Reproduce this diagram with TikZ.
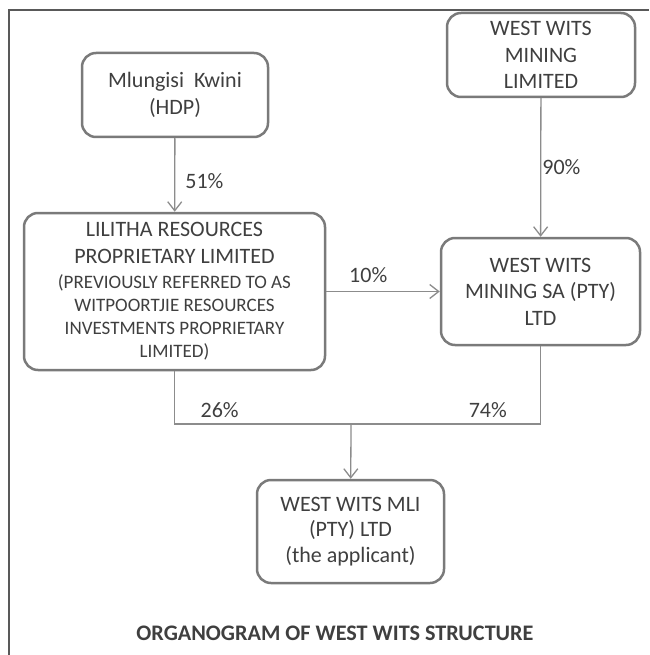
\documentclass[tikz,border=0pt]{standalone}
\usepackage{fontspec}
\setmainfont{Carlito}
\usetikzlibrary{arrows.meta}
\definecolor{txtgray}{HTML}{3F3F3F}
\definecolor{boxgray}{HTML}{7A7A7A}
\definecolor{linegray}{HTML}{8C8C8C}
\newcommand{\sm}[1]{{\fontsize{19}{23}\selectfont #1}}

\begin{document}
\begin{tikzpicture}[x=1pt, y=-1pt,
		company/.style={draw=boxgray, line width=2.5pt, rounded corners=14pt, align=center, text=txtgray, inner sep=0pt, font=\fontsize{22}{26.5}\selectfont},
		share/.style={draw=linegray, line width=1.3pt},
		owns/.style={share, -{Straight Barb[length=9pt, width=14pt]}},
		pct/.style={text=txtgray, inner sep=1pt, font=\fontsize{22}{26.5}\selectfont}]
			\useasboundingbox (0,0) rectangle (649,655);
			\draw[line width=2pt, black!65] (9,655) -- (9,10) -- (649,10);
			
			\node[company, minimum width=186pt, minimum height=84pt] (hdp) at (175,95) {Mlungisi\ \ Kwini\\(HDP)};
			\node[company, minimum width=188pt, minimum height=84pt] (wwml) at (541,55) {WEST WITS\\MINING\\LIMITED};
			\node[company, minimum width=301pt, minimum height=157pt, font=\fontsize{22}{23}\selectfont] (lil) at (174.5,291.5) {LILITHA RESOURCES\\[4pt]PROPRIETARY LIMITED\\[2pt]\sm{(PREVIOUSLY REFERRED TO AS}\\\sm{WITPOORTJIE RESOURCES}\\\sm{INVESTMENTS PROPRIETARY}\\\sm{LIMITED)}};
			\node[company, minimum width=199pt, minimum height=107pt] (wwsa) at (540.5,291.5) {WEST WITS\\MINING SA (PTY)\\LTD};
			\node[company, minimum width=187pt, minimum height=103pt, font=\fontsize{22}{25.5}\selectfont] (mli) at (350.5,531.5) {WEST WITS MLI\\(PTY) LTD\\(the applicant)};
			
			\node[text=txtgray, font=\fontsize{22.2}{26}\selectfont\bfseries] (title) at (335,633) {ORGANOGRAM OF WEST WITS STRUCTURE};
			
			\coordinate (jn) at (351,424);
			
			\draw[owns] (hdp) -- node[pct, pos=.58, right=9pt] {51\%} (lil);
			\draw[owns] (wwml) -- node[pct, pos=.5, right=0pt] {90\%} (wwsa);
			\draw[owns] (lil.east |- wwsa) -- node[pct, pos=.37, above=7pt] {10\%} (wwsa);
			\draw[share] (lil.south) |- node[pct, pos=.628, above=5pt] {26\%} (jn) -| node[pct, pos=.361, above=5pt] {74\%} (wwsa.south);
			\draw[owns] (jn) -- (mli);
		\end{tikzpicture}
\end{document}
